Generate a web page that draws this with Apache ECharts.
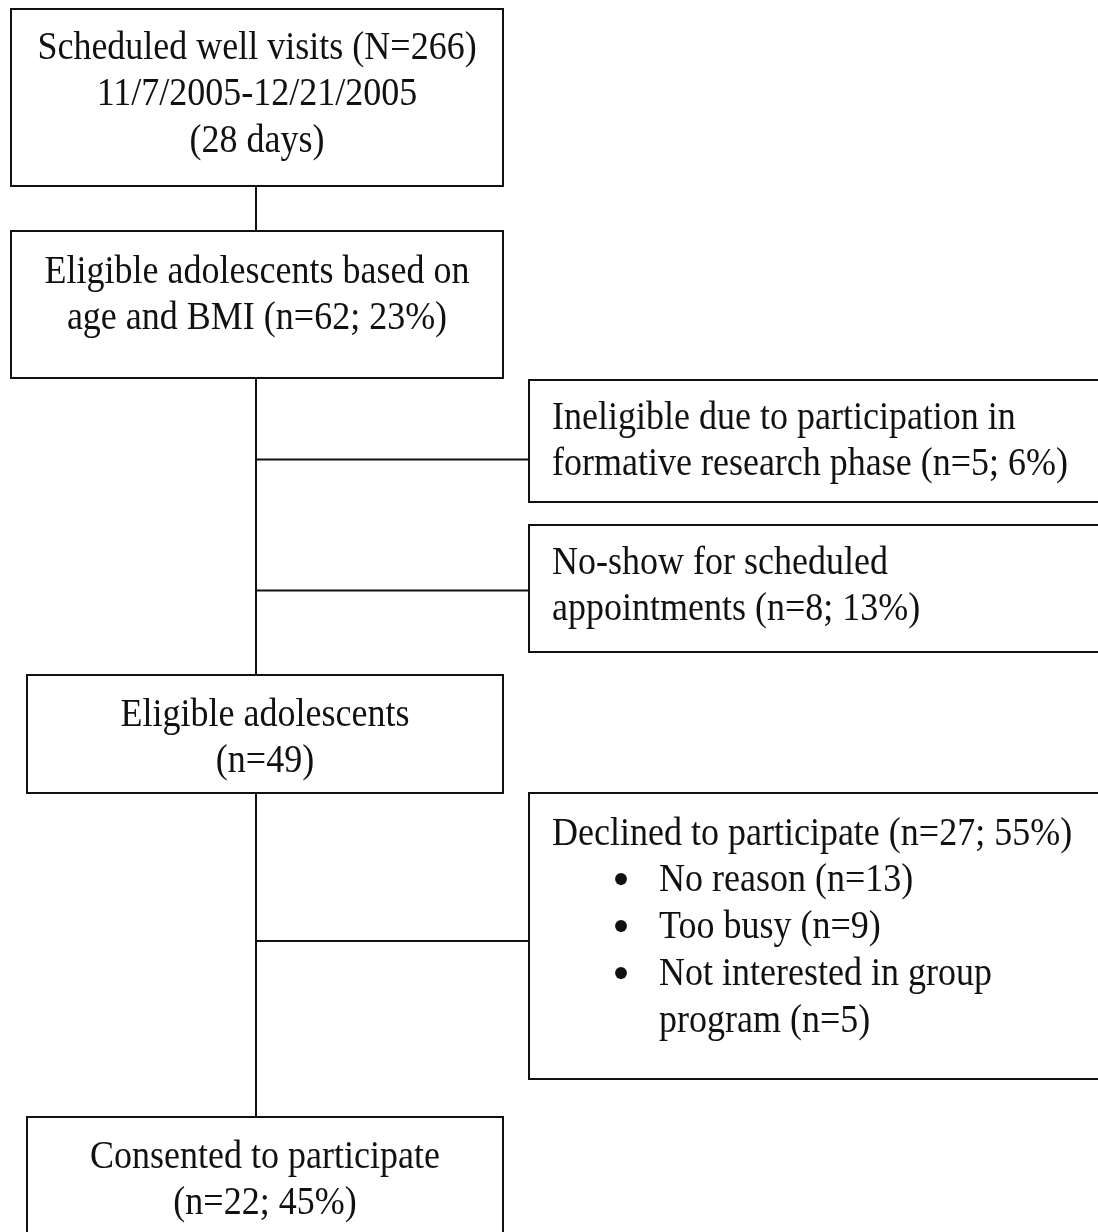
<!DOCTYPE html>
<html>
<head>
<meta charset="utf-8">
<script src="https://cdn.jsdelivr.net/npm/echarts@6/dist/echarts.min.js"></script>
<style>
  html, body { margin: 0; padding: 0; background: #ffffff; }
  #chart { width: 1098px; height: 1232px; }
</style>
</head>
<body>
<div id="chart"></div>
<script>
// ---------- DATA ----------
const stageNames = [
  'Scheduled well visits',
  'Eligible adolescents based on age and BMI',
  'Ineligible due to participation in formative research phase',
  'No-show for scheduled appointments',
  'Eligible adolescents',
  'Declined to participate',
  'Consented to participate'
];
const stageCounts = [266, 62, 5, 8, 49, 27, 22];
const stagePercents = [null, 23, 6, 13, null, 55, 45];
const studyPeriod = ['11/7/2005', '12/21/2005'];
const studyDays = 28;
const declineReasons = ['No reason', 'Too busy', 'Not interested in group program'];
const declineCounts = [13, 9, 5];

// ---------- TEXT (built from data) ----------
function nLabel(i, big) {
  const p = stagePercents[i];
  return '(' + (big ? 'N' : 'n') + '=' + stageCounts[i] + (p != null ? '; ' + p + '%' : '') + ')';
}
const boxLines = [
  ['Scheduled well visits ' + nLabel(0, true), studyPeriod[0] + '-' + studyPeriod[1], '(' + studyDays + ' days)'],
  ['Eligible adolescents based on', 'age and BMI ' + nLabel(1)],
  ['Ineligible due to participation in', 'formative research phase ' + nLabel(2)],
  ['No-show for scheduled', 'appointments ' + nLabel(3)],
  ['Eligible adolescents', nLabel(4)],
  ['Declined to participate ' + nLabel(5)],
  ['Consented to participate', nLabel(6)]
];
const bulletLines = [
  { bullet: true, text: declineReasons[0] + ' (n=' + declineCounts[0] + ')' },
  { bullet: true, text: declineReasons[1] + ' (n=' + declineCounts[1] + ')' },
  { bullet: true, text: 'Not interested in group' },
  { bullet: false, text: 'program (n=' + declineCounts[2] + ')' }
];

// ---------- LAYOUT (positions / sizes, in canvas units) ----------
const W = 1098, H = 1232;
const boxRects = [
  [11, 9, 503, 186],
  [11, 231, 503, 378],
  [529, 380, 1102, 502],
  [529, 525, 1102, 652],
  [27, 675, 503, 793],
  [529, 793, 1102, 1079],
  [27, 1117, 503, 1240]
];
const boxAlign = ['center', 'center', 'left', 'left', 'center', 'left', 'center'];
const firstLineY = [48, 272, 418, 563, 715, 834, 1157];
const lineStep = 46.8;
const leftTextX = 552;
const bulletX = 621;
const bulletTextX = 659;
const trunkX = 256;
const branchY = [459.5, 590.5, 941];
const branchTarget = [2, 3, 5];
const FONT = '36px "Liberation Serif", "Times New Roman", serif';
const BULLET_FONT = '50px "Liberation Serif", serif';
const TEXT_SCALE_Y = 1.12;
const INK = '#111111';

const segments = [
  [trunkX, boxRects[0][3], trunkX, boxRects[1][1]],
  [trunkX, boxRects[1][3], trunkX, boxRects[4][1]],
  [trunkX, boxRects[4][3], trunkX, boxRects[6][1]]
];
branchY.forEach((y, k) => segments.push([trunkX, y, boxRects[branchTarget[k]][0], y]));

function textEl(t, x, y, align, font) {
  return {
    type: 'text', x: x, y: y, scaleY: TEXT_SCALE_Y,
    style: { text: t, x: 0, y: 0, font: font || FONT, fill: INK, align: align, verticalAlign: 'middle' }
  };
}

const chart = echarts.init(document.getElementById('chart'), null, { renderer: 'canvas' });
chart.setOption({
  backgroundColor: '#ffffff',
  animation: false,
  grid: { left: 0, right: 0, top: 0, bottom: 0 },
  xAxis: { type: 'value', min: 0, max: W, show: false },
  yAxis: { type: 'value', min: 0, max: H, inverse: true, show: false },
  series: [
    {
      type: 'custom',
      clip: true,
      data: segments.map((s, i) => [i]),
      renderItem: function (params, api) {
        const s = segments[api.value(0)];
        const p1 = api.coord([s[0], s[1]]);
        const p2 = api.coord([s[2], s[3]]);
        return {
          type: 'line',
          shape: { x1: p1[0], y1: p1[1], x2: p2[0], y2: p2[1] },
          style: { stroke: INK, lineWidth: 2 }
        };
      },
      z: 1
    },
    {
      type: 'custom',
      clip: true,
      data: boxRects.map((b, i) => [i]),
      renderItem: function (params, api) {
        const i = api.value(0);
        const b = boxRects[i];
        const tl = api.coord([b[0], b[1]]);
        const br = api.coord([b[2], b[3]]);
        const children = [{
          type: 'rect',
          shape: { x: tl[0], y: tl[1], width: br[0] - tl[0], height: br[1] - tl[1] },
          style: { fill: '#ffffff', stroke: INK, lineWidth: 2 }
        }];
        const centerX = api.coord([(b[0] + b[2]) / 2, 0])[0];
        const lx = api.coord([leftTextX, 0])[0];
        boxLines[i].forEach((t, k) => {
          const y = api.coord([0, firstLineY[i] + k * lineStep])[1];
          const center = boxAlign[i] === 'center';
          children.push(textEl(t, center ? centerX : lx, y, center ? 'center' : 'left'));
        });
        if (i === 5) {
          bulletLines.forEach((bl, k) => {
            const y = api.coord([0, firstLineY[i] + (k + 1) * lineStep])[1];
            if (bl.bullet) {
              children.push({
                type: 'text', x: api.coord([bulletX, 0])[0], y: y + 2,
                style: { text: '•', x: 0, y: 0, font: BULLET_FONT, fill: INK, align: 'center', verticalAlign: 'middle' }
              });
            }
            children.push(textEl(bl.text, api.coord([bulletTextX, 0])[0], y, 'left'));
          });
        }
        return { type: 'group', children: children };
      },
      z: 2
    }
  ]
});
</script>
</body>
</html>
